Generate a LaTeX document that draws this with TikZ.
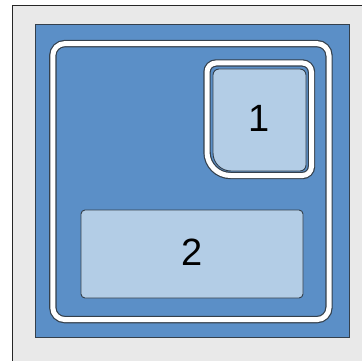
\documentclass[tikz,border=0pt]{standalone}
\usepackage{fontspec}
\setmainfont{Liberation Sans}
\definecolor{bggray}{HTML}{E9E9E9}
\definecolor{midblue}{HTML}{5B8FC7}
\definecolor{lightblue}{HTML}{B3CDE6}
\definecolor{darkline}{HTML}{34404C}
\tikzset{
  band/.style={draw=darkline, line width=7.4pt},
  bandwhite/.style={draw=white, line width=5pt},
  boxstyle/.style={draw=darkline, line width=0.9pt, fill=lightblue},
  lbl/.style={font=\fontsize{38}{38}\selectfont, text=black, inner sep=0pt}
}
\begin{document}
\begin{tikzpicture}[x=1pt,y=-1pt]
\useasboundingbox (0,0) rectangle (362,361);
\clip (0,0) rectangle (362,361);
% background
\fill[white] (0,0) rectangle (362,361);
\draw[draw=black!85, line width=1pt, fill=bggray] (12.5,5.5) rectangle (380,380);
% blue square
\draw[draw=darkline, line width=1pt, fill=midblue] (35,25) rectangle (349,337);
% outer frame band
\draw[band, rounded corners=12pt] (52.8,43.6) rectangle (329,319.6);
\draw[bandwhite, rounded corners=12pt] (52.8,43.6) rectangle (329,319.6);
% box 1 band
\draw[band] (207,72) -- (207,152) arc[start angle=180, end angle=90, radius=23.5] -- (302.5,175.5) arc[start angle=90, end angle=0, radius=9] -- (311.5,72) arc[start angle=0, end angle=-90, radius=9] -- (216,63) arc[start angle=270, end angle=180, radius=9] -- cycle;
\draw[bandwhite] (207,72) -- (207,152) arc[start angle=180, end angle=90, radius=23.5] -- (302.5,175.5) arc[start angle=90, end angle=0, radius=9] -- (311.5,72) arc[start angle=0, end angle=-90, radius=9] -- (216,63) arc[start angle=270, end angle=180, radius=9] -- cycle;
% box 1
\draw[boxstyle] (213,75) -- (213,153) arc[start angle=180, end angle=90, radius=18] -- (300,171) arc[start angle=90, end angle=0, radius=6] -- (306,75) arc[start angle=0, end angle=-90, radius=6] -- (219,69) arc[start angle=270, end angle=180, radius=6] -- cycle;
\node[lbl] (one) at (259.5,118) {1};
% box 2
\draw[boxstyle, rounded corners=4pt] (81,210) rectangle (303,298);
\node[lbl] (two) at (192,252) {2};
\end{tikzpicture}
\end{document}
